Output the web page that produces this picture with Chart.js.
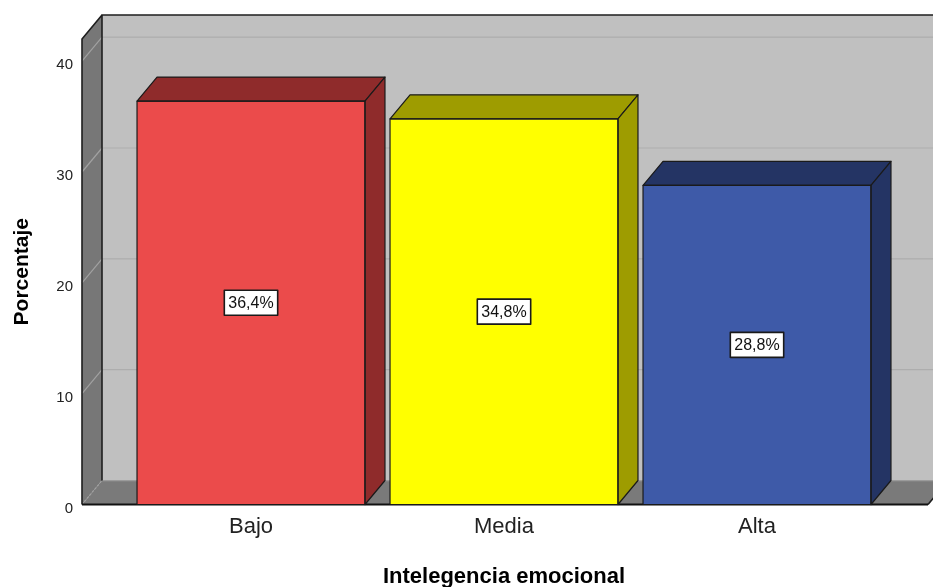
<!DOCTYPE html>
<html>
<head>
<meta charset="utf-8">
<script src="https://cdn.jsdelivr.net/npm/chart.js@4"></script>
<style>
  html, body { margin: 0; padding: 0; background: #ffffff; }
  #wrap { width: 933px; height: 587px; }
</style>
</head>
<body>
<div id="wrap"><canvas id="chart" width="933" height="587"></canvas></div>
<script>
// Intelegencia emocional – distribution in percent
const categories = ['Bajo', 'Media', 'Alta'];
const percentages = [36.4, 34.8, 28.8];
const yTicks = [0, 10, 20, 30, 40];

const frontColors = ['#EB4B4B', '#FFFF00', '#3E5AA8'];
const shadeColors = ['#8F2B2B', '#9E9C00', '#243464'];

const FONT = "'Liberation Sans', Arial, Helvetica, sans-serif";

// depth of the 3D box (back plane offset)
const DX = 20, DY = -24;
const FRONT_LEFT = 82;    // front edge of the left wall
const FRONT_RIGHT = 928;  // front right corner of the floor

const box3d = {
  id: 'box3d',
  beforeDatasetsDraw(chart) {
    const ctx = chart.ctx;
    const y = chart.scales.y;
    const yTop = y.getPixelForValue(y.max);
    const yBase = y.getPixelForValue(0);
    const W = chart.width;
    ctx.save();
    // back wall
    ctx.fillStyle = '#C0C0C0';
    ctx.fillRect(FRONT_LEFT + DX, yTop + DY, W, yBase - yTop);
    // left wall
    ctx.fillStyle = '#777777';
    ctx.beginPath();
    ctx.moveTo(FRONT_LEFT, yTop);
    ctx.lineTo(FRONT_LEFT + DX, yTop + DY);
    ctx.lineTo(FRONT_LEFT + DX, yBase + DY);
    ctx.lineTo(FRONT_LEFT, yBase);
    ctx.closePath();
    ctx.fill();
    // floor
    ctx.fillStyle = '#7A7A7A';
    ctx.beginPath();
    ctx.moveTo(FRONT_LEFT, yBase);
    ctx.lineTo(FRONT_LEFT + DX, yBase + DY);
    ctx.lineTo(FRONT_RIGHT + DX, yBase + DY);
    ctx.lineTo(FRONT_RIGHT, yBase);
    ctx.closePath();
    ctx.fill();
    // grid lines: horizontal on back wall, diagonal on left wall
    ctx.lineWidth = 1.2;
    yTicks.forEach(v => {
      const py = y.getPixelForValue(v);
      if (v > 0) {
        ctx.strokeStyle = '#ADADAD';
        ctx.beginPath();
        ctx.moveTo(FRONT_LEFT + DX, py + DY);
        ctx.lineTo(W, py + DY);
        ctx.stroke();
      }
      ctx.strokeStyle = '#A2A2A2';
      ctx.setLineDash(v === 0 ? [2, 2] : []);
      ctx.beginPath();
      ctx.moveTo(FRONT_LEFT, py);
      ctx.lineTo(FRONT_LEFT + DX, py + DY);
      ctx.stroke();
      ctx.setLineDash([]);
    });
    // floor back edge highlight
    ctx.strokeStyle = '#8C8C8C';
    ctx.beginPath();
    ctx.moveTo(FRONT_LEFT + DX, yBase + DY + 0.5);
    ctx.lineTo(FRONT_RIGHT + DX, yBase + DY + 0.5);
    ctx.stroke();
    // dark edges of the box
    ctx.strokeStyle = '#1E1E1E';
    ctx.lineWidth = 1.6;
    ctx.beginPath();
    ctx.moveTo(FRONT_LEFT + DX, yBase + DY);
    ctx.lineTo(FRONT_LEFT + DX, yTop + DY);
    ctx.lineTo(W, yTop + DY);
    ctx.moveTo(FRONT_LEFT, yBase);
    ctx.lineTo(FRONT_LEFT, yTop);
    ctx.lineTo(FRONT_LEFT + DX, yTop + DY);
    ctx.moveTo(FRONT_RIGHT, yBase);
    ctx.lineTo(FRONT_RIGHT + DX, yBase + DY);
    ctx.stroke();
    ctx.lineWidth = 2.2;
    ctx.strokeStyle = '#111';
    ctx.beginPath();
    ctx.moveTo(FRONT_LEFT, yBase);
    ctx.lineTo(FRONT_RIGHT, yBase);
    ctx.stroke();
    ctx.restore();
  },
  afterDatasetsDraw(chart) {
    const ctx = chart.ctx;
    const meta = chart.getDatasetMeta(0);
    ctx.save();
    ctx.lineWidth = 1.2;
    ctx.strokeStyle = '#1A1A1A';
    ctx.lineJoin = 'round';
    meta.data.forEach((bar, i) => {
      const p = bar.getProps(['x', 'y', 'base', 'width'], true);
      const l = p.x - p.width / 2, r = p.x + p.width / 2;
      ctx.fillStyle = shadeColors[i];
      // top face
      ctx.beginPath();
      ctx.moveTo(l, p.y);
      ctx.lineTo(l + DX, p.y + DY);
      ctx.lineTo(r + DX, p.y + DY);
      ctx.lineTo(r, p.y);
      ctx.closePath();
      ctx.fill();
      ctx.stroke();
      // right side face
      ctx.beginPath();
      ctx.moveTo(r, p.y);
      ctx.lineTo(r + DX, p.y + DY);
      ctx.lineTo(r + DX, p.base + DY);
      ctx.lineTo(r, p.base);
      ctx.closePath();
      ctx.fill();
      ctx.stroke();
      // front outline
      ctx.strokeRect(l, p.y, p.width, p.base - p.y);
    });
    // value labels in white boxes
    ctx.font = '16px ' + FONT;
    ctx.textAlign = 'center';
    ctx.textBaseline = 'middle';
    meta.data.forEach((bar, i) => {
      const p = bar.getProps(['x', 'y', 'base'], true);
      const txt = percentages[i].toFixed(1).replace('.', ',') + '%';
      const cy = (p.y + p.base) / 2;
      const w = ctx.measureText(txt).width + 8;
      const h = 25;
      ctx.fillStyle = '#FFFFFF';
      ctx.fillRect(p.x - w / 2, cy - h / 2, w, h);
      ctx.lineWidth = 1.6;
      ctx.strokeStyle = '#1A1A1A';
      ctx.strokeRect(p.x - w / 2, cy - h / 2, w, h);
      ctx.fillStyle = '#111';
      ctx.fillText(txt, p.x, cy + 1);
    });
    ctx.restore();
  }
};

new Chart(document.getElementById('chart'), {
  type: 'bar',
  data: {
    labels: categories,
    datasets: [{
      data: percentages,
      backgroundColor: frontColors,
      borderWidth: 0,
      barPercentage: 0.901,
      categoryPercentage: 1
    }]
  },
  options: {
    responsive: false,
    animation: false,
    devicePixelRatio: 1,
    layout: { padding: { left: 0, right: 49.5, top: 39, bottom: 0 } },
    plugins: { legend: { display: false }, tooltip: { enabled: false } },
    scales: {
      x: {
        grid: { display: false, drawTicks: false },
        border: { display: false },
        ticks: { color: '#222', padding: 9, font: { family: FONT, size: 22 } },
        title: {
          display: true, text: 'Intelegencia emocional', color: '#000',
          font: { family: FONT, size: 22, weight: 'bold', lineHeight: 1 },
          padding: { top: 0, bottom: -1 }
        },
        afterFit: s => { s.height = 82.5; }
      },
      y: {
        min: 0, max: 42,
        grid: { display: false, drawTicks: true, tickLength: 41.5 },
        border: { display: false },
        ticks: {
          stepSize: 10, includeBounds: false, padding: 10, labelOffset: 4,
          color: '#222', font: { family: FONT, size: 15 }
        },
        afterBuildTicks: s => { s.ticks = yTicks.map(v => ({ value: v })); },
        title: {
          display: true, text: 'Porcentaje', color: '#000',
          font: { family: FONT, size: 21, weight: 'bold', lineHeight: 1.2 },
          padding: { top: 9.4, bottom: 0 }
        },
        afterFit: s => { s.width = 124.5; }
      }
    }
  },
  plugins: [box3d]
});
</script>
</body>
</html>
